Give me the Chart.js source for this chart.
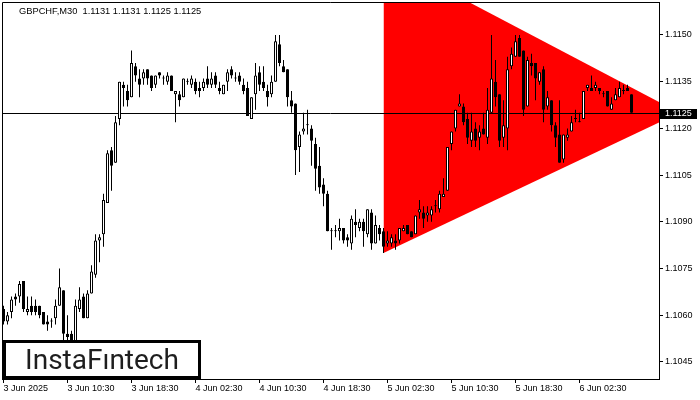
<!DOCTYPE html>
<html>
<head>
<meta charset="utf-8">
<title>GBPCHF M30</title>
<script src="https://cdn.jsdelivr.net/npm/chart.js@4.4.1/dist/chart.umd.min.js"></script>
<style>
  html, body { margin: 0; padding: 0; background: #fff; }
  #wrap { width: 700px; height: 400px; }
</style>
</head>
<body>
<div id="wrap"><canvas id="chart" width="700" height="400"></canvas></div>
<script>
const symbol = 'GBPCHF,M30';

// M30 candles, first bar 3 Jun 02:30
const opens = [
  1.1062, 1.1058, 1.1061, 1.1066, 1.1066, 1.1071, 1.1061, 1.1063, 1.1063, 1.1063,
  1.1061, 1.1058, 1.1058, 1.1059, 1.1063, 1.1068, 1.1054, 1.1054, 1.1050, 1.1062,
  1.1066, 1.1059, 1.1067, 1.1073, 1.1084, 1.1086, 1.1096, 1.1113, 1.1109, 1.1123,
  1.1134, 1.1132, 1.1130, 1.1140, 1.1136, 1.1136, 1.1139, 1.1137, 1.1134, 1.1138,
  1.1136, 1.1135, 1.1137, 1.1131, 1.1131, 1.1130, 1.1135, 1.1134, 1.1135, 1.1133,
  1.1133, 1.1136, 1.1134, 1.1137, 1.1133, 1.1131, 1.1135, 1.1139, 1.1136, 1.1137,
  1.1134, 1.1133, 1.1123, 1.1131, 1.1138, 1.1135, 1.1132, 1.1131, 1.1135, 1.1147,
  1.1140, 1.1139, 1.1129, 1.1128, 1.1114, 1.1119, 1.1121, 1.1120, 1.1115, 1.1108,
  1.1102, 1.1099, 1.1087, 1.1087, 1.1087, 1.1088, 1.1085, 1.1083, 1.1090, 1.1088,
  1.1090, 1.1086, 1.1093, 1.1083, 1.1088, 1.1087, 1.1083, 1.1083, 1.1084, 1.1084,
  1.1087, 1.1089, 1.1087, 1.1086, 1.1093, 1.1093, 1.1092, 1.1092, 1.1095, 1.1094,
  1.1098, 1.1100, 1.1115, 1.1120, 1.1127, 1.1127, 1.1123, 1.1116, 1.1120, 1.1117,
  1.1120, 1.1117, 1.1125, 1.1135, 1.1131, 1.1117, 1.1120, 1.1140, 1.1143, 1.1149,
  1.1145, 1.1127, 1.1141, 1.1141, 1.1135, 1.1139, 1.1127, 1.1129, 1.1121, 1.1118,
  1.1110, 1.1117, 1.1119, 1.1123, 1.1122, 1.1123, 1.1133, 1.1133, 1.1133, 1.1133,
  1.1131, 1.1132, 1.1126, 1.1129, 1.1130, 1.1132, 1.1133, 1.1131
];
const highs = [
  1.1063, 1.1061, 1.1066, 1.1067, 1.1071, 1.1071, 1.1066, 1.1066, 1.1065, 1.1063,
  1.1061, 1.1060, 1.1059, 1.1065, 1.1075, 1.1068, 1.1060, 1.1055, 1.1065, 1.1069,
  1.1067, 1.1068, 1.1076, 1.1086, 1.1086, 1.1099, 1.1113, 1.1114, 1.1124, 1.1135,
  1.1135, 1.1134, 1.1145, 1.1141, 1.1139, 1.1139, 1.1139, 1.1137, 1.1137, 1.1138,
  1.1137, 1.1138, 1.1137, 1.1132, 1.1132, 1.1136, 1.1136, 1.1137, 1.1136, 1.1135,
  1.1136, 1.1140, 1.1138, 1.1138, 1.1135, 1.1134, 1.1139, 1.1140, 1.1138, 1.1138,
  1.1136, 1.1135, 1.1130, 1.1141, 1.1140, 1.1140, 1.1134, 1.1137, 1.1150, 1.1150,
  1.1142, 1.1139, 1.1132, 1.1128, 1.1119, 1.1125, 1.1126, 1.1121, 1.1117, 1.1114,
  1.1104, 1.1100, 1.1088, 1.1089, 1.1091, 1.1088, 1.1086, 1.1092, 1.1094, 1.1091,
  1.1091, 1.1094, 1.1094, 1.1092, 1.1089, 1.1088, 1.1087, 1.1086, 1.1086, 1.1088,
  1.1089, 1.1089, 1.1087, 1.1092, 1.1097, 1.1095, 1.1095, 1.1095, 1.1097, 1.1100,
  1.1104, 1.1114, 1.1119, 1.1126, 1.1131, 1.1128, 1.1125, 1.1125, 1.1122, 1.1121,
  1.1125, 1.1133, 1.1150, 1.1142, 1.1131, 1.1129, 1.1143, 1.1146, 1.1150, 1.1150,
  1.1145, 1.1143, 1.1144, 1.1141, 1.1138, 1.1140, 1.1132, 1.1129, 1.1122, 1.1129,
  1.1118, 1.1120, 1.1124, 1.1126, 1.1125, 1.1132, 1.1134, 1.1137, 1.1135, 1.1133,
  1.1132, 1.1132, 1.1130, 1.1133, 1.1135, 1.1134, 1.1134, 1.1131
];
const lows = [
  1.1057, 1.1057, 1.1059, 1.1063, 1.1064, 1.1061, 1.1060, 1.1060, 1.1060, 1.1059,
  1.1057, 1.1055, 1.1056, 1.1057, 1.1063, 1.1050, 1.1050, 1.1049, 1.1048, 1.1061,
  1.1059, 1.1059, 1.1067, 1.1072, 1.1077, 1.1082, 1.1096, 1.1100, 1.1109, 1.1121,
  1.1127, 1.1127, 1.1130, 1.1135, 1.1130, 1.1134, 1.1134, 1.1132, 1.1133, 1.1136,
  1.1134, 1.1134, 1.1132, 1.1122, 1.1127, 1.1130, 1.1134, 1.1133, 1.1131, 1.1130,
  1.1132, 1.1133, 1.1133, 1.1133, 1.1131, 1.1131, 1.1132, 1.1136, 1.1135, 1.1134,
  1.1131, 1.1124, 1.1123, 1.1126, 1.1132, 1.1132, 1.1127, 1.1130, 1.1135, 1.1140,
  1.1138, 1.1127, 1.1125, 1.1105, 1.1106, 1.1118, 1.1118, 1.1108, 1.1100, 1.1099,
  1.1095, 1.1087, 1.1081, 1.1085, 1.1084, 1.1083, 1.1082, 1.1081, 1.1085, 1.1087,
  1.1082, 1.1085, 1.1081, 1.1083, 1.1084, 1.1080, 1.1082, 1.1082, 1.1081, 1.1083,
  1.1087, 1.1086, 1.1085, 1.1086, 1.1091, 1.1088, 1.1090, 1.1090, 1.1093, 1.1093,
  1.1098, 1.1100, 1.1113, 1.1119, 1.1127, 1.1121, 1.1115, 1.1114, 1.1114, 1.1113,
  1.1118, 1.1115, 1.1125, 1.1127, 1.1114, 1.1114, 1.1113, 1.1139, 1.1143, 1.1143,
  1.1124, 1.1127, 1.1137, 1.1129, 1.1134, 1.1122, 1.1126, 1.1119, 1.1114, 1.1109,
  1.1109, 1.1116, 1.1119, 1.1122, 1.1122, 1.1123, 1.1132, 1.1132, 1.1132, 1.1131,
  1.1130, 1.1127, 1.1126, 1.1129, 1.1130, 1.1131, 1.1132, 1.1125
];
const closes = [
  1.1058, 1.1060, 1.1065, 1.1065, 1.1070, 1.1062, 1.1062, 1.1061, 1.1061, 1.1060,
  1.1057, 1.1057, 1.1058, 1.1063, 1.1069, 1.1054, 1.1053, 1.1052, 1.1063, 1.1065,
  1.1059, 1.1067, 1.1074, 1.1084, 1.1085, 1.1097, 1.1112, 1.1108, 1.1122, 1.1135,
  1.1133, 1.1129, 1.1141, 1.1137, 1.1134, 1.1138, 1.1136, 1.1133, 1.1137, 1.1137,
  1.1136, 1.1137, 1.1132, 1.1132, 1.1129, 1.1136, 1.1135, 1.1136, 1.1132, 1.1132,
  1.1135, 1.1134, 1.1136, 1.1134, 1.1132, 1.1134, 1.1138, 1.1137, 1.1136, 1.1135,
  1.1132, 1.1124, 1.1130, 1.1137, 1.1134, 1.1133, 1.1130, 1.1135, 1.1148, 1.1141,
  1.1138, 1.1130, 1.1127, 1.1113, 1.1118, 1.1120, 1.1121, 1.1116, 1.1107, 1.1101,
  1.1099, 1.1087, 1.1087, 1.1087, 1.1088, 1.1084, 1.1084, 1.1091, 1.1089, 1.1090,
  1.1087, 1.1094, 1.1083, 1.1089, 1.1086, 1.1082, 1.1084, 1.1085, 1.1083, 1.1088,
  1.1088, 1.1086, 1.1085, 1.1092, 1.1094, 1.1091, 1.1093, 1.1094, 1.1095, 1.1099,
  1.1099, 1.1114, 1.1119, 1.1126, 1.1128, 1.1122, 1.1117, 1.1119, 1.1116, 1.1119,
  1.1118, 1.1126, 1.1136, 1.1130, 1.1116, 1.1121, 1.1139, 1.1144, 1.1148, 1.1143,
  1.1126, 1.1142, 1.1140, 1.1136, 1.1138, 1.1126, 1.1130, 1.1121, 1.1117, 1.1109,
  1.1118, 1.1118, 1.1122, 1.1123, 1.1122, 1.1132, 1.1134, 1.1132, 1.1134, 1.1132,
  1.1131, 1.1127, 1.1128, 1.1131, 1.1133, 1.1132, 1.1132, 1.1125
];

// time axis labels sit every 16 bars (8 hours)
const xTickIdx = [0, 16, 32, 48, 64, 80, 96, 112, 128, 144];
const xTickLabels = ['3 Jun 2025', '3 Jun 10:30', '3 Jun 18:30', '4 Jun 02:30', '4 Jun 10:30',
                     '4 Jun 18:30', '5 Jun 02:30', '5 Jun 10:30', '5 Jun 18:30', '6 Jun 02:30'];
const yTicks = [1.1045, 1.1060, 1.1075, 1.1090, 1.1105, 1.1120, 1.1135, 1.1150];

// symmetrical triangle: start bar, apex bar
const triX = [95, 169];
const triUpper = [1.1175, 1.1125];
const triLower = [1.1080, 1.1125];

const FONT = '"Liberation Sans", Arial, sans-serif';

const wickData = lows.map((l, i) => ({ x: i, y: [l, highs[i]] }));
const bodyData = opens.map((o, i) => ({ x: i, y: [o, closes[i]] }));
const bodyColors = opens.map((o, i) => closes[i] >= o ? '#ffffff' : '#000000');

const overlay = {
  id: 'overlay',
  afterDatasetDraw(chart, args) {
    // price line goes over the triangle but under the candles
    if (args.index !== 0) return;
    const { ctx, chartArea: a, scales: { y } } = chart;
    const py = Math.round(y.getPixelForValue(closes[closes.length - 1])) + 0.5;
    ctx.save();
    ctx.strokeStyle = '#000';
    ctx.lineWidth = 1;
    ctx.beginPath();
    ctx.moveTo(a.left, py);
    ctx.lineTo(a.right, py);
    ctx.stroke();
    ctx.restore();
  },
  afterDraw(chart) {
    const { ctx, chartArea: a, scales: { y } } = chart;
    ctx.save();
    // frame (right and bottom come from the axis borders)
    ctx.strokeStyle = '#000';
    ctx.lineWidth = 1;
    ctx.beginPath();
    ctx.moveTo(a.left + 0.5, a.bottom);
    ctx.lineTo(a.left + 0.5, a.top + 0.5);
    ctx.lineTo(a.right, a.top + 0.5);
    ctx.stroke();

    // current price tag
    const last = closes[closes.length - 1];
    const py = Math.round(y.getPixelForValue(last));
    ctx.fillStyle = '#000';
    ctx.fillRect(a.right + 1, py - 4, 37, 10);
    ctx.fillStyle = '#fff';
    ctx.font = '9px ' + FONT;
    ctx.textAlign = 'left';
    ctx.textBaseline = 'middle';
    ctx.fillText(last.toFixed(4), a.right + 6, py + 1);

    // title
    const n = opens.length - 1;
    const title = symbol + '  ' + [opens[n], highs[n], lows[n], closes[n]].map(v => v.toFixed(4)).join(' ');
    ctx.fillStyle = '#000';
    ctx.font = '9.3px ' + FONT;
    ctx.fillText(title, 19, 11);

    // logo box
    ctx.fillStyle = '#fff';
    ctx.fillRect(3, 340, 198, 39);
    ctx.strokeStyle = '#000';
    ctx.lineWidth = 3;
    ctx.strokeRect(4.5, 341.5, 195, 36);
    ctx.fillStyle = '#1e1e1e';
    ctx.font = '400 28px Roboto, sans-serif';
    ctx.textAlign = 'center';
    ctx.textBaseline = 'alphabetic';
    ctx.fillText('InstaF\u0131ntech', 102, 369);
    ctx.restore();
  }
};

new Chart(document.getElementById('chart'), {
  type: 'bar',
  data: {
    datasets: [
      {
        type: 'line',
        data: triX.map((x, i) => ({ x: x, y: triUpper[i] })),
        backgroundColor: '#ff0000',
        borderWidth: 0,
        pointRadius: 0,
        fill: '+1',
        order: 3
      },
      {
        type: 'line',
        data: triX.map((x, i) => ({ x: x, y: triLower[i] })),
        borderWidth: 0,
        pointRadius: 0,
        fill: false,
        order: 3
      },
      {
        data: wickData,
        backgroundColor: '#000',
        borderWidth: 0,
        barThickness: 1,
        grouped: false,
        inflateAmount: 0,
        order: 2
      },
      {
        data: bodyData,
        backgroundColor: bodyColors,
        borderColor: '#000',
        borderWidth: 1,
        borderSkipped: false,
        barThickness: 3,
        minBarLength: 1,
        grouped: false,
        inflateAmount: 0,
        order: 1
      }
    ]
  },
  options: {
    responsive: false,
    animation: false,
    layout: { padding: { left: 2, top: 2, right: 0, bottom: 0 } },
    plugins: { legend: { display: false }, tooltip: { enabled: false } },
    scales: {
      x: {
        type: 'linear',
        min: -0.375,
        max: 163.875,
        offset: false,
        grid: { drawOnChartArea: false, drawTicks: true, tickLength: 4, color: '#000', offset: false },
        border: { display: true, color: '#000' },
        afterBuildTicks: s => { s.ticks = xTickIdx.map(v => ({ value: v })); },
        afterFit: s => { s.height = 21; s.paddingLeft = 0; s.paddingRight = 0; },
        ticks: {
          autoSkip: false,
          maxRotation: 0,
          align: 'start',
          padding: 0,
          color: '#000',
          font: { family: FONT, size: 9 },
          callback: (v, i) => xTickLabels[i]
        }
      },
      y: {
        type: 'linear',
        position: 'right',
        min: 1.10395,
        max: 1.11606,
        beginAtZero: false,
        grid: { drawOnChartArea: false, drawTicks: true, tickLength: 4, color: '#000' },
        border: { display: true, color: '#000' },
        afterBuildTicks: s => { s.ticks = yTicks.map(v => ({ value: v })); },
        afterFit: s => { s.width = 41; s.paddingTop = 0; s.paddingBottom = 0; },
        ticks: {
          padding: 2,
          color: '#000',
          font: { family: FONT, size: 9 },
          callback: v => v.toFixed(4)
        }
      }
    }
  },
  plugins: [overlay]
});
</script>
</body>
</html>
